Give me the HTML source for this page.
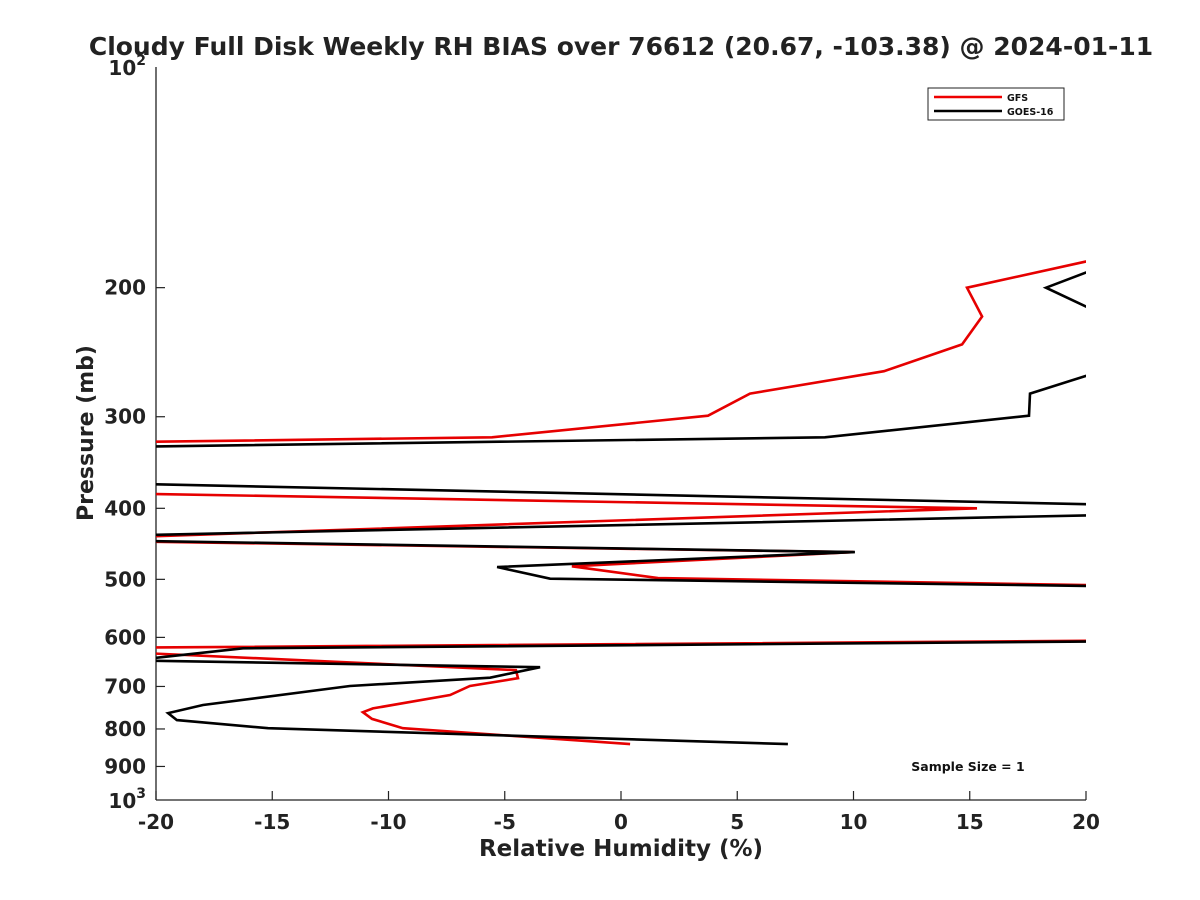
<!DOCTYPE html>
<html><head><meta charset="utf-8">
<style>
html,body{margin:0;padding:0;background:#fff;}
svg{display:block;font-family:"DejaVu Sans","Liberation Sans",sans-serif;}
</style></head>
<body>
<svg id="chart" width="1200" height="900" viewBox="0 0 1200 900">
<defs><clipPath id="plotclip"><rect x="156" y="67" width="930" height="733"/></clipPath></defs>
<rect width="1200" height="900" fill="#fff"/>
<text x="621" y="55" text-anchor="middle" font-size="25" font-weight="bold" fill="#222">Cloudy Full Disk Weekly RH BIAS over 76612 (20.67, -103.38) @ 2024-01-11</text>
<g id="axes"></g>
<g id="series" clip-path="url(#plotclip)"></g>
<g>
<rect x="928" y="88" width="136" height="32" fill="#fff" stroke="#222" stroke-width="1"/>
<line x1="934" y1="97" x2="1002" y2="97" stroke="#e00" stroke-width="2.5"/>
<text x="1007" y="101" font-size="9.5" font-weight="bold" fill="#111">GFS</text>
<line x1="934" y1="111" x2="1002" y2="111" stroke="#000" stroke-width="2.5"/>
<text x="1007" y="115" font-size="9.5" font-weight="bold" fill="#111">GOES-16</text>
</g>
<text x="968" y="771" text-anchor="middle" font-size="12.5" font-weight="bold" fill="#111">Sample Size = 1</text>
<text x="621" y="856" text-anchor="middle" font-size="23" font-weight="bold" fill="#222">Relative Humidity (%)</text>
<text transform="translate(93,433) rotate(-90)" text-anchor="middle" font-size="22" font-weight="bold" fill="#222">Pressure (mb)</text>
</svg>
<script>
const xTicks = [-20,-15,-10,-5,0,5,10,15,20];
const yTicks = [200,300,400,500,600,700,800,900];
const gfsX = [25,14.88,15.53,14.67,11.31,5.55,3.74,-5.55,-25,-25,15.31,-25,10,-2.11,1.59,25,25,-25,-4.52,-4.43,-6.5,-7.35,-10.67,-11.1,-10.71,-9.38,0.39];
const gfsP = [170,200,219,239,260,279,299,320,326,380,400,442,459,480,498,512,605,621,665,682,699,719,750,759,775,798,839];
const goesX = [25,18.28,25,25,17.59,17.55,8.77,-25,-25,25,25,-25,-25,10.06,-5.33,-3.05,25,25,-16.26,-21,-3.48,-5.63,-11.66,-17.98,-19.48,-19.1,-15.18,7.18];
const goesP = [166,200,252,235,279,299,320,331,368,398,406,438,441,459,481,499,513,606,621,645,659,681,699,742,761,778,798,839];

const X0=156,X1=1086,Y0=67,Y1=800;
function xs(v){return X0+(v+20)/40*(X1-X0);}
function ys(p){return Y0+(Math.log10(p)-2)*(Y1-Y0);}
const NS='http://www.w3.org/2000/svg';
const axes=document.getElementById('axes'), series=document.getElementById('series');
function mk(tag,attrs,parent){const e=document.createElementNS(NS,tag);for(const k in attrs)e.setAttribute(k,attrs[k]);parent.appendChild(e);return e;}

const yAxis=mk('line',{x1:X0,y1:Y0,x2:X0,y2:Y1,stroke:'#222','stroke-width':1.3},axes);


const xAxis=mk('line',{x1:X0,y1:Y1,x2:X1,y2:Y1,stroke:'#222','stroke-width':1.3},axes);



xTicks.forEach(v=>{
  const x=xs(v);
  mk('line',{x1:x,y1:Y1,x2:x,y2:Y1-9,stroke:'#222','stroke-width':1.2},axes);
  const t=mk('text',{x:x,y:Y1+29,'text-anchor':'middle','font-size':20,'font-weight':'bold',fill:'#222'},axes);
  t.textContent=String(v);
  
  
});
yTicks.forEach(p=>{
  const y=ys(p);
  mk('line',{x1:X0,y1:y,x2:X0+9,y2:y,stroke:'#222','stroke-width':1.2},axes);
  const t=mk('text',{x:X0-10,y:y+7,'text-anchor':'end','font-size':20,'font-weight':'bold',fill:'#222'},axes);
  t.textContent=String(p);
  
  
});
[[100,'2'],[1000,'3']].forEach(([p,e])=>{
  const y=ys(p);
  const t=mk('text',{x:X0-10,y:y+8,'text-anchor':'end','font-size':20,'font-weight':'bold',fill:'#222'},axes);
  t.innerHTML='10<tspan dy="-10" font-size="14">'+e+'</tspan>';
  
  
});

function line(xsArr,psArr,color,name){
  const pts=xsArr.map((v,i)=>xs(v).toFixed(1)+','+ys(psArr[i]).toFixed(1)).join(' ');
  const pl=mk('polyline',{points:pts,fill:'none',stroke:color,'stroke-width':2.6,'stroke-linejoin':'miter'},series);
  
  
}
line(gfsX,gfsP,'#e60000','gfs-line');
line(goesX,goesP,'#000','goes-16-line');
</script>
</body></html>
